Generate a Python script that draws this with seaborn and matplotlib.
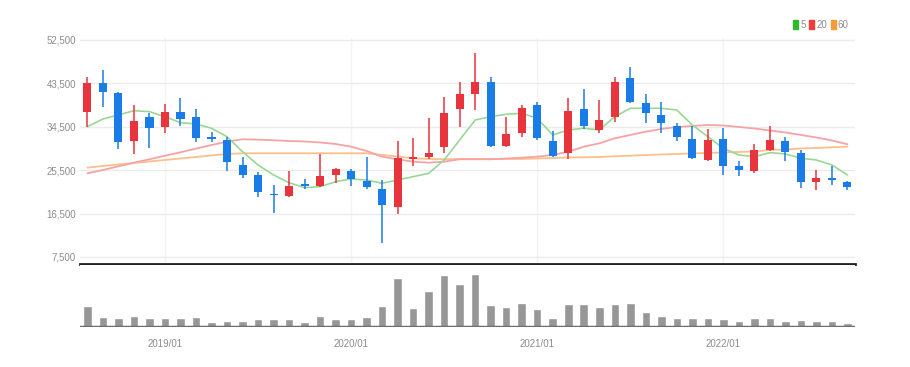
import matplotlib
matplotlib.use("Agg")
import matplotlib.pyplot as plt
import seaborn as sns
import numpy as np
import pandas as pd
from matplotlib.patches import Patch

months = [str(p) for p in pd.period_range("2018-08", "2022-09", freq="M")]

opens = [37630, 43520, 41440, 31490, 36470, 34520, 37500, 36470, 32110, 31760,
         26580, 24500, 20490, 20150, 22570, 22220, 24500, 25390, 23320, 21540,
         17800, 27900, 28300, 30330, 38190, 41240, 43850, 30580, 33150, 39020,
         31550, 29000, 38190, 33830, 36590, 44560, 39500, 36950, 34660, 31910,
         27610, 31910, 26430, 25330, 29690, 31550, 29000, 22990, 23800, 23110]
highs = [44760, 46280, 41650, 39020, 37300, 39230, 40410, 38190, 33360, 32440,
         28300, 25190, 22370, 25390, 23670, 28860, 25900, 25750, 28300, 23460,
         31620, 32110, 36260, 40620, 43850, 49740, 44760, 36470, 39020, 39700,
         33630, 40410, 42340, 40060, 44760, 46960, 41300, 39700, 35350, 34660,
         34040, 34190, 27470, 30860, 34660, 32440, 29690, 25540, 26430, 23300]
lows = [34520, 38670, 29890, 28860, 30160, 33270, 34660, 31280, 31410, 25330,
        23940, 20000, 16680, 20000, 21540, 22100, 22900, 22220, 21600, 10340,
        16410, 26430, 27760, 29000, 34520, 37980, 30400, 30370, 32440, 31760,
        28300, 27760, 33980, 33270, 35430, 39370, 35350, 33270, 31550, 27760,
        27470, 24500, 24360, 24980, 29540, 27400, 21870, 21390, 22420, 21390]
closes = [43520, 41780, 31280, 35770, 34190, 37630, 36120, 32240, 31950, 27130,
          24500, 20910, 20300, 22280, 22300, 24360, 25770, 23670, 21950, 18370,
          27960, 28300, 29130, 37420, 41240, 43850, 30580, 32940, 38330, 32110,
          28440, 37770, 34610, 35910, 43850, 39700, 37300, 35350, 32320, 27960,
          31760, 26310, 25540, 29690, 31760, 29330, 23110, 23940, 23500, 22070]

ma5 = [34520, 36120, 36950, 37840, 37630, 36590, 35350, 35080, 34190, 32440,
       29330, 26570, 24500, 22900, 21870, 22070, 23110, 23670, 23460, 22780,
       23460, 24150, 24850, 27610, 31760, 35910, 36590, 37090, 37300, 36260,
       32800, 33830, 34190, 33830, 36590, 38330, 38330, 38330, 37980, 34870,
       32440, 30040, 28650, 28300, 29130, 28860, 27970, 27610, 26570, 24500]
ma20 = [24850, 25540, 26300, 27050, 27760, 28500, 29210, 29960, 30720, 31410,
        31910, 31830, 31700, 31550, 31450, 31240, 30930, 30370, 29480, 28300,
        27760, 27260, 27050, 27260, 27760, 27760, 27760, 27920, 28090, 28300,
        28650, 29330, 30370, 31070, 32110, 32800, 33480, 34040, 34460, 34660,
        34870, 34770, 34460, 34140, 33730, 33320, 32800, 32280, 31660, 30870]
ma60 = [26020, 26370, 26680, 26990, 27300, 27610, 27920, 28230, 28550, 28860,
        29000, 29000, 29000, 29000, 29000, 29000, 29000, 29000, 29000, 28650,
        28340, 27970, 27820, 27760, 27820, 27820, 27820, 27820, 27820, 27920,
        28030, 28130, 28170, 28230, 28380, 28500, 28650, 28750, 28860, 28960,
        29070, 29170, 29270, 29380, 29690, 29790, 30000, 30100, 30250, 30370]

volumes = [21.0, 9.7, 9.0, 11.0, 9.0, 9.0, 9.0, 9.7, 5.0, 6.0,
           6.0, 7.7, 7.7, 8.3, 4.7, 11.0, 7.7, 7.7, 10.0, 21.7,
           50.0, 19.3, 36.7, 53.3, 43.3, 54.3, 22.3, 20.7, 24.7, 18.7,
           9.3, 23.7, 23.0, 20.7, 23.0, 24.0, 15.7, 10.7, 8.7, 8.7,
           9.3, 7.7, 5.7, 9.3, 9.3, 6.0, 7.3, 5.7, 5.7, 4.0]

price_ticks = [7500, 16500, 25500, 34500, 43500, 52500]
year_labels = ["2019/01", "2020/01", "2021/01", "2022/01"]

UP = "#e8343c"
DOWN = "#1a7ce6"
GRAY = "#8c8c8c"

sns.set_theme(style="white")
plt.rcParams["font.family"] = ["Liberation Sans", "DejaVu Sans"]

df = pd.DataFrame({"month": months, "open": opens, "high": highs, "low": lows,
                   "close": closes, "ma5": ma5, "ma20": ma20, "ma60": ma60,
                   "volume": volumes})
df["pos"] = np.arange(len(df))
df["up"] = df["close"] >= df["open"]
year_pos = [df.index[df["month"] == m.replace("/", "-")][0] for m in year_labels]

fig = plt.figure(figsize=(9.1, 3.67), dpi=100)
ax = fig.add_axes([0.0879, 0.2807, 0.8517, 0.6158])
axv = fig.add_axes([0.0879, 0.109, 0.8517, 0.169], sharex=ax)

# moving averages
sns.lineplot(data=df, x="pos", y="ma60", color="#fbc08c", lw=1.3, ax=ax, zorder=2)
sns.lineplot(data=df, x="pos", y="ma20", color="#f6a3a6", lw=1.3, ax=ax, zorder=2)
sns.lineplot(data=df, x="pos", y="ma5", color="#98d894", lw=1.2, ax=ax, zorder=2)

# candles
colors = np.where(df["up"], UP, DOWN)
ax.vlines(df["pos"], df["low"], df["high"], colors=colors, lw=1.1, zorder=3)
body_lo = df[["open", "close"]].min(axis=1)
body_h = (df["close"] - df["open"]).abs().clip(lower=350)
ax.bar(df["pos"], body_h, bottom=body_lo, width=0.52, color=colors, zorder=4,
       linewidth=0)

ax.set_xlim(-0.48, 49.49)
ax.set_ylim(6040, 52915)
ax.set_yticks(price_ticks)
ax.set_yticklabels([f"{v:,}" for v in price_ticks])
ax.set_xticks(year_pos)
ax.tick_params(axis="x", labelbottom=False, length=0)
ax.tick_params(axis="y", length=0, pad=3, labelsize=7, labelcolor=GRAY)
ax.grid(axis="y", color="#ebebeb", lw=1)
ax.grid(axis="x", color="#f3f3f3", lw=1)
ax.set_xlabel("")
ax.set_ylabel("")
for side in ["top", "left", "right"]:
    ax.spines[side].set_visible(False)
ax.spines["bottom"].set_color("#222222")
ax.spines["bottom"].set_linewidth(2)

# volume
sns.barplot(data=df, x="pos", y="volume", color="#979797", width=0.55,
            saturation=1, ax=axv, native_scale=True, zorder=2)
axv.axhline(0, color="#6e6e6e", lw=2.5, zorder=3)
axv.set_ylim(0, 63)
axv.set_yticks([])
axv.set_xticks(year_pos)
axv.set_xticklabels(year_labels)
axv.tick_params(axis="x", length=4, width=1, color="#444444", pad=5,
                labelsize=7, labelcolor=GRAY, direction="out")
axv.set_xlim(-0.48, 49.49)
axv.set_xlabel("")
axv.set_ylabel("")
for side in ["top", "left", "right", "bottom"]:
    axv.spines[side].set_visible(False)

handles = [Patch(color="#2db92d", label="5"),
           Patch(color="#ee3b3b", label="20"),
           Patch(color="#ff9a3c", label="60")]
fig.legend(handles=handles, loc="center right", bbox_to_anchor=(0.942, 0.932),
           ncol=3, frameon=False, fontsize=7, handlelength=0.5,
           handleheight=1.0, handletextpad=0.2, columnspacing=0.4,
           labelcolor=GRAY)

fig.savefig("out.png", dpi=100)
